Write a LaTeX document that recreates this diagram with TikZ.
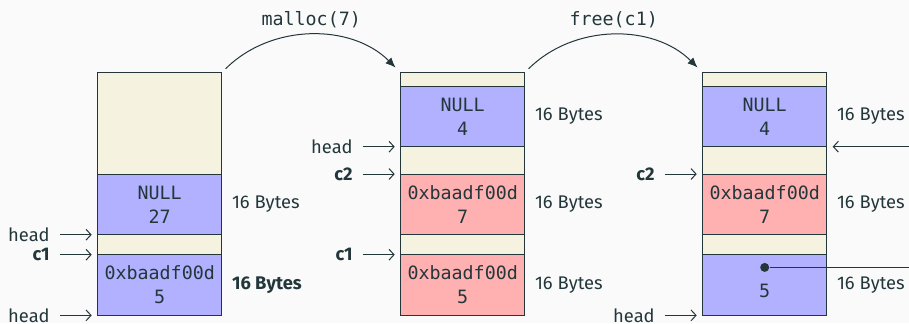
\documentclass[tikz,border=0pt]{standalone}
\usepackage{fontspec}
\setmainfont{Fira Sans}
\setmonofont{DejaVu Sans Mono}
\usepackage{tikz}
\usetikzlibrary{arrows.meta,positioning,calc}
\definecolor{fg}{HTML}{23373B}
\definecolor{bg}{HTML}{FAFAFA}
\definecolor{padcol}{HTML}{F5F2E0}
\definecolor{usedcol}{HTML}{FFB1B1}
\definecolor{freecol}{HTML}{B1B1FF}

\begin{document}
\begin{tikzpicture}[
			x=0.6pt, y=-0.6pt, % pixel grid of the slide
			color=fg,
			cell/.style={draw=fg, line width=0.6pt, outer sep=0pt, inner sep=0pt, minimum width=74.4pt,
				align=center, font=\ttfamily\fontsize{11}{14.4}\selectfont},
			pad/.style={cell, fill=padcol},
			chunk/.style={cell, minimum height=36.4pt},
			lbl/.style={inner sep=0pt, font=\fontsize{11}{13}\selectfont},
			ptr/.style={lbl, outer sep=6pt},
			var/.style={ptr, font=\bfseries\fontsize{11}{13}\selectfont},
			ptrarrow/.style={-{Straight Barb[length=3pt,width=6.5pt]}, line width=0.6pt, shorten >=3.6pt},
			steparrow/.style={-{Latex[length=6pt,width=5pt]}, line width=0.6pt, shorten <=3.3pt, shorten >=4.4pt},
			dot/.style={circle, fill=fg, inner sep=0pt, minimum size=5.4pt}]
		\path[use as bounding box, fill=bg] (0,0) rectangle (909,323);

		% before
		\node (b1top) [pad, anchor=north west, minimum height=60.8pt] at (97.7,72.7) {};
		\node (b1a) [chunk, fill=freecol, below=0pt of b1top] {NULL\\27};
		\node (b1g) [pad, minimum height=12pt, below=0pt of b1a] {};
		\node (b1b) [chunk, fill=freecol, below=0pt of b1g] {0xbaadf00d\\5};

		% after malloc
		\node (b2top) [pad, anchor=north west, minimum height=8pt] at (400.7,72.7) {};
		\node (b2a) [chunk, fill=freecol, below=0pt of b2top] {NULL\\4};
		\node (b2g) [pad, minimum height=16.4pt, below=0pt of b2a] {};
		\node (b2b) [chunk, fill=usedcol, below=0pt of b2g] {0xbaadf00d\\7};
		\node (b2h) [pad, minimum height=12pt, below=0pt of b2b] {};
		\node (b2c) [chunk, fill=usedcol, below=0pt of b2h] {0xbaadf00d\\5};

		% after free
		\node (b3top) [pad, anchor=north west, minimum height=8pt] at (702.7,72.7) {};
		\node (b3a) [chunk, fill=freecol, below=0pt of b3top] {NULL\\4};
		\node (b3g) [pad, minimum height=16.4pt, below=0pt of b3a] {};
		\node (b3b) [chunk, fill=usedcol, below=0pt of b3g] {0xbaadf00d\\7};
		\node (b3h) [pad, minimum height=12pt, below=0pt of b3b] {};
		\node (b3c) [chunk, fill=freecol, below=0pt of b3h] {};
		\node (b3dot) [dot] at ($(b3c.north)+(0,12.7)$) {};
		\node (b3v) [font=\ttfamily\fontsize{11}{14.4}\selectfont, inner sep=0pt] at ($(b3c.center)+(0,5.5)$) {5};

		% sizes
		\node (s1a) [lbl, right=6pt of b1a] {16 Bytes};
		\node (s1b) [lbl, font=\bfseries\fontsize{11}{13}\selectfont, right=6pt of b1b] {16 Bytes};
		\node (s2a) [lbl, right=6pt of b2a] {16 Bytes};
		\node (s2b) [lbl, right=6pt of b2b] {16 Bytes};
		\node (s2c) [lbl, right=6pt of b2c] {16 Bytes};
		\node (s3a) [lbl, right=6pt of b3a] {16 Bytes};
		\node (s3b) [lbl, right=6pt of b3b] {16 Bytes};
		\node (s3c) [lbl, right=6pt of b3c] {16 Bytes};

		% pointers
		\node (p1h) [ptr, left=22.8pt of b1g.north west] {head};
		\node (p1c) [var, left=22.8pt of b1b.north west] {c1};
		\node (p1t) [ptr, left=22.8pt of b1b.south west] {head};
		\node (p2h) [ptr, left=22.8pt of b2a.south west] {head};
		\node (p2c) [var, left=22.8pt of b2b.north west] {c2};
		\node (p2d) [var, left=22.8pt of b2c.north west] {c1};
		\node (p3c) [var, left=22.8pt of b3b.north west] {c2};
		\node (p3h) [ptr, left=22.8pt of b3c.south west] {head};
		\draw[ptrarrow] (p1h) -- (b1g.north west);
		\draw[ptrarrow] (p1c) -- (b1b.north west);
		\draw[ptrarrow] (p1t) -- (b1b.south west);
		\draw[ptrarrow] (p2h) -- (b2a.south west);
		\draw[ptrarrow] (p2c) -- (b2b.north west);
		\draw[ptrarrow] (p2d) -- (b2c.north west);
		\draw[ptrarrow] (p3c) -- (b3b.north west);
		\draw[ptrarrow] (p3h) -- (b3c.south west);

		% links leaving the slide
		\coordinate (rin) at ($(b3a.south east)+(110,0)$);
		\coordinate (rout) at ($(b3dot)+(170,0)$);
		\draw[ptrarrow, shorten >=3.6pt] (rin) -- (b3a.south east);
		\draw[line width=0.6pt] (b3dot) -- (rout);

		% steps
		\draw[steparrow] (b1top.north east) to[bend left=45]
			node[midway, above, inner sep=4.5pt, font=\ttfamily\fontsize{11}{14.4}\selectfont] {malloc(7)} (b2top.north west);
		\draw[steparrow] (b2top.north east) to[bend left=45]
			node[midway, above, inner sep=4.5pt, font=\ttfamily\fontsize{11}{14.4}\selectfont] {free(c1)} (b3top.north west);
	\end{tikzpicture}
\end{document}
